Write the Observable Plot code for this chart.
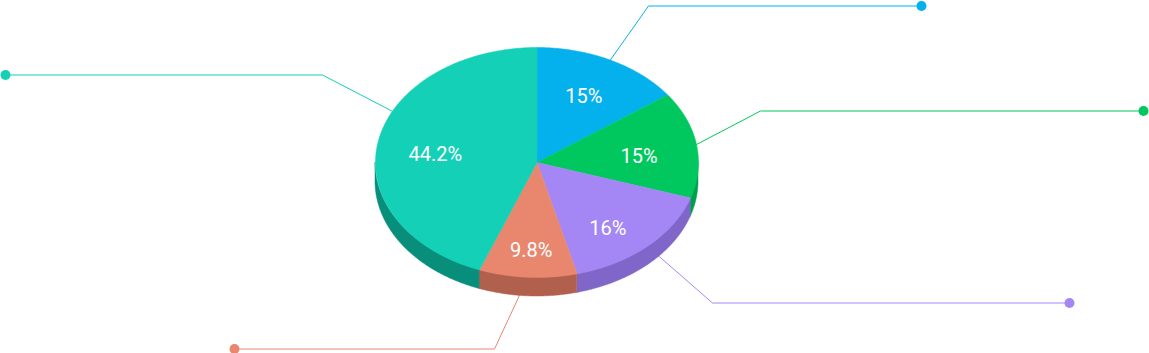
<!DOCTYPE html>
<html>
<head>
<meta charset="utf-8">
<script src="https://cdn.jsdelivr.net/npm/d3@7"></script>
<script src="https://cdn.jsdelivr.net/npm/@observablehq/plot@0.6"></script>
<style>
  html, body { margin: 0; padding: 0; background: #fff; }
  #chart svg { display: block; }
</style>
</head>
<body>
<div id="chart"></div>
<script>
// ---- data ----
const categories = ["A", "B", "C", "D", "E"];
const values = [15, 15, 16, 9.8, 44.2];
const labels = ["15%", "15%", "16%", "9.8%", "44.2%"];
const topColors = ["#05B1EC", "#00C85E", "#A487F5", "#E8866E", "#13D0B6"];
const sideColors = ["#048FC0", "#00A04B", "#8066C8", "#B0604C", "#088F7B"];

// ---- layout (styling, not data) ----
const W = 1149, H = 353;
const cx = 536.5, cy = 162, rx = 161.5, ry = 115, depth = 19;
// leader elbow offsets from pie centre and horizontal end offsets
const leaderElbowDX = [111.5, 223.5, 175.5, -42.5, -214.5];
const leaderElbowDY = [-157, -52, 140, 186, -88];
const leaderEndDX = [384.5, 606.5, 532.5, -302.5, -531.5];
const leaderAnchorShift = [0, 0, 0, 0, 16];

const rad = Math.PI / 180;
const px = (a, r = 1) => cx + rx * r * Math.sin(a * rad);
const py = (a, r = 1) => cy - ry * r * Math.cos(a * rad);

const total = d3.sum(values);
let acc = 0;
const slices = values.map((v, i) => {
  const a0 = acc / total * 360;
  acc += v;
  const a1 = acc / total * 360;
  return {key: categories[i], i, a0, a1, mid: (a0 + a1) / 2};
});

function arcPoints(a0, a1) {
  const n = Math.max(2, Math.ceil((a1 - a0) / 0.5));
  return d3.range(n + 1).map(k => a0 + (a1 - a0) * k / n);
}

const marks = [];

// leader lines (behind the pie)
slices.forEach(s => {
  const ex = cx + leaderElbowDX[s.i], ey = cy + leaderElbowDY[s.i] + 0.5;
  const an = s.mid + leaderAnchorShift[s.i];
  const pts = [
    {x: px(an), y: py(an)},
    {x: ex, y: ey},
    {x: cx + leaderEndDX[s.i], y: ey}
  ];
  marks.push(Plot.line(pts, {x: "x", y: "y", stroke: topColors[s.i], strokeWidth: 1, curve: "linear"}));
  marks.push(Plot.dot([pts[2]], {x: "x", y: "y", r: 5, fill: topColors[s.i], stroke: null}));
});

// side walls (front half only: 90..270 degrees)
slices.forEach(s => {
  const b0 = Math.max(s.a0, 90), b1 = Math.min(s.a1, 270);
  if (b1 <= b0) return;
  const pts = arcPoints(b0, b1).map(a => ({x: px(a), y1: py(a), y2: py(a) + depth}));
  marks.push(Plot.areaY(pts, {x: "x", y1: "y1", y2: "y2", fill: sideColors[s.i], stroke: sideColors[s.i], strokeWidth: 0.5, curve: "linear"}));
});

// top faces
slices.forEach(s => {
  const pts = [{x: cx, y: cy}, ...arcPoints(s.a0, s.a1).map(a => ({x: px(a), y: py(a)})), {x: cx, y: cy}];
  marks.push(Plot.line(pts, {x: "x", y: "y", fill: topColors[s.i], stroke: topColors[s.i], strokeWidth: 0.5, curve: "linear"}));
});

// labels
const labelData = slices.map(s => ({
  x: cx + rx * 0.64 * Math.sin(s.mid * rad),
  y: cy - ry * 0.71 * Math.cos(s.mid * rad) + 6.5,
  text: labels[s.i]
}));
marks.push(Plot.text(labelData, {x: "x", y: "y", text: "text", fill: "white", fontSize: 20, fontFamily: "Roboto", fontWeight: 400}));

const chart = Plot.plot({
  width: W, height: H, margin: 0,
  x: {domain: [0, W], range: [0, W], axis: null},
  y: {domain: [0, H], range: [0, H], axis: null},
  style: {background: "white"},
  marks
});
document.getElementById("chart").appendChild(chart);
</script>
</body>
</html>
